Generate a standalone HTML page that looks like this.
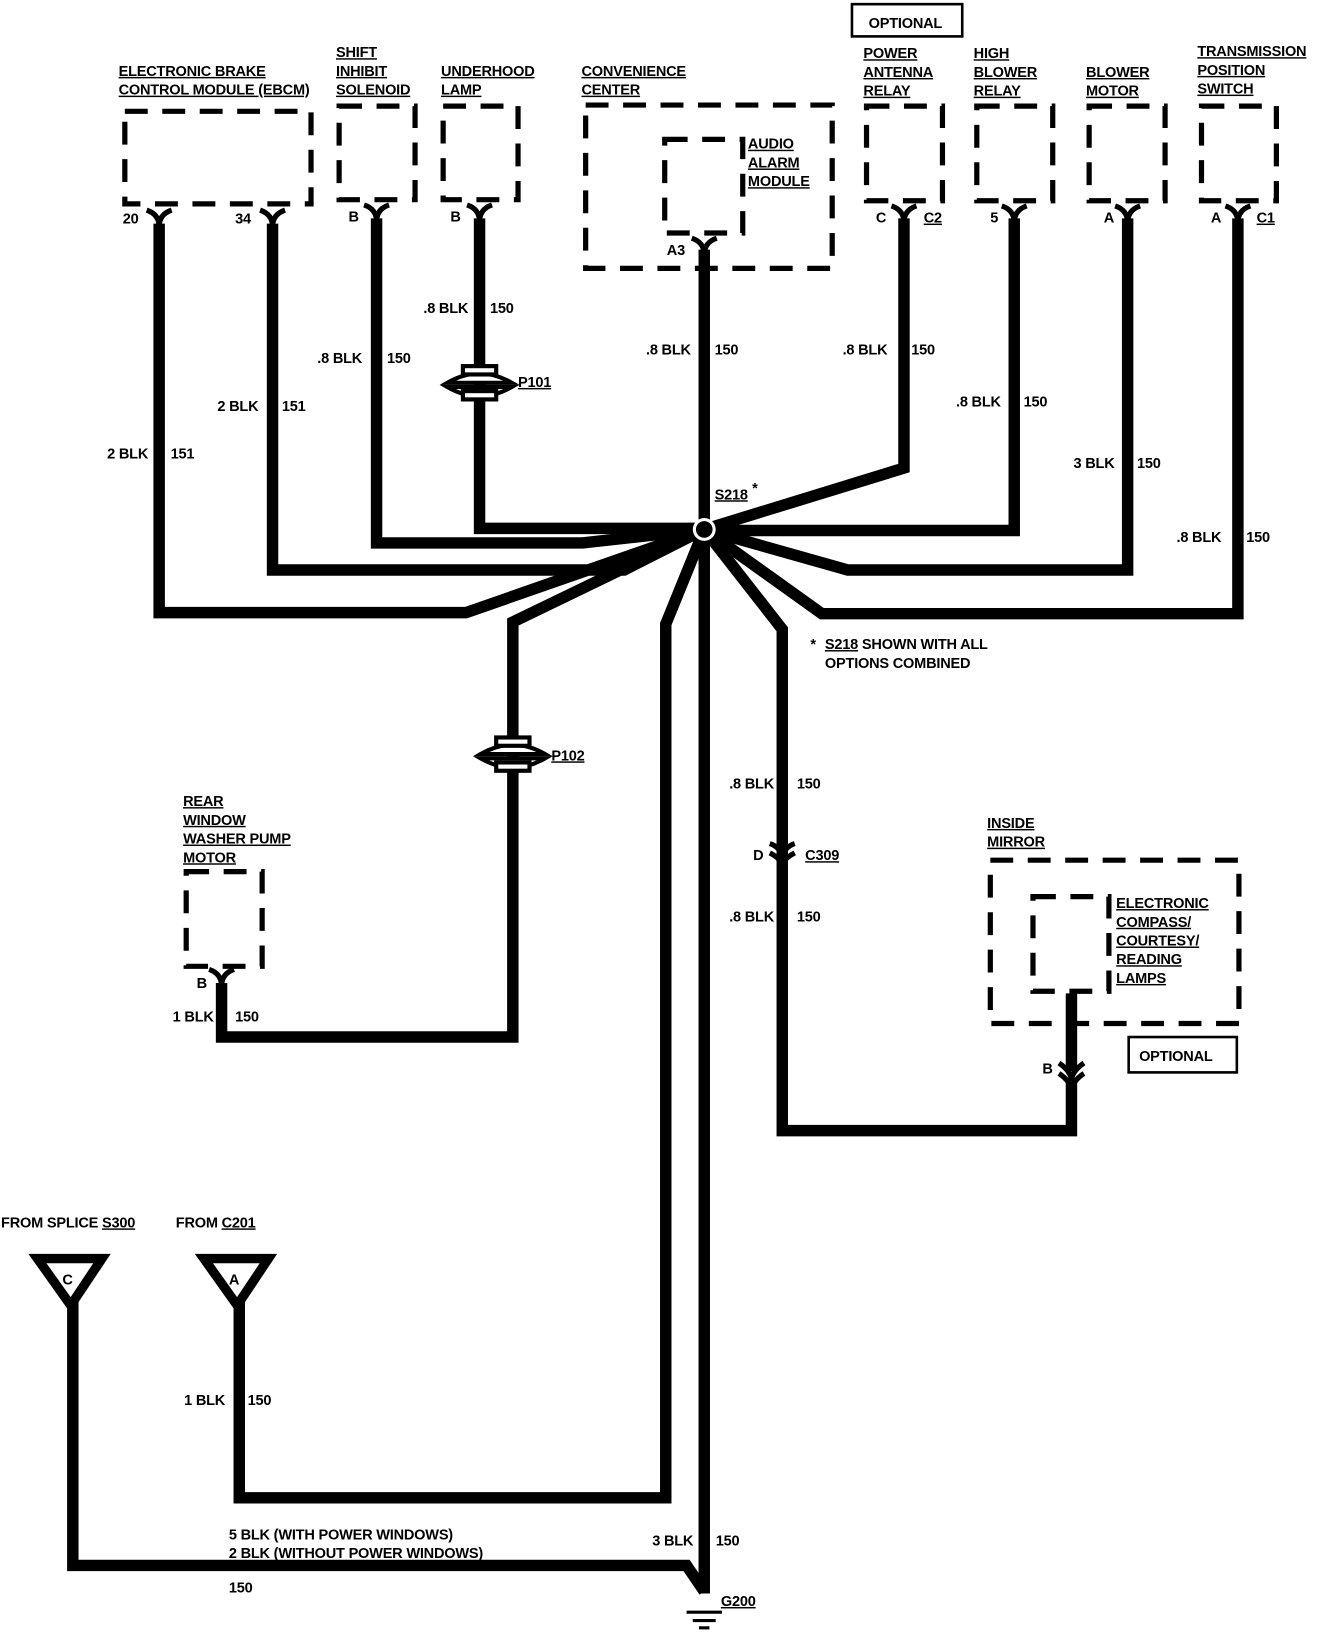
<!DOCTYPE html>
<html><head><style>
html,body{margin:0;padding:0;background:#fff;}
svg{display:block;}
text{font-family:"Liberation Sans",sans-serif;font-weight:bold;font-size:14px;fill:#000;letter-spacing:-0.2px;}
.u{text-decoration:underline;}
.w{fill:none;stroke:#000;stroke-width:11;stroke-linejoin:miter;}
.d{fill:none;stroke:#000;stroke-width:5;stroke-dasharray:22,14;}
.y{fill:none;stroke:#000;stroke-width:5;}
</style></head><body>
<svg width="1344" height="1632" viewBox="0 0 1292 1569" preserveAspectRatio="none" xmlns="http://www.w3.org/2000/svg">
<rect class="d" x="120" y="107" width="179" height="89"/>
<rect class="d" x="326" y="102" width="73" height="90"/>
<rect class="d" x="426" y="102" width="72" height="90"/>
<rect class="d" x="563" y="101" width="237" height="157"/>
<rect class="d" x="639" y="134" width="75" height="90" stroke-dasharray="18,12"/>
<rect class="d" x="833" y="102" width="73" height="91"/>
<rect class="d" x="939" y="102" width="73" height="91"/>
<rect class="d" x="1047" y="102" width="73" height="91"/>
<rect class="d" x="1155" y="102" width="72" height="91"/>
<rect class="d" x="179" y="838" width="73" height="91" stroke-dasharray="18,12"/>
<rect class="d" x="952" y="827" width="239" height="157"/>
<rect class="d" x="993" y="862" width="73" height="91" stroke-dasharray="18,12"/>
<rect x="819" y="4" width="106" height="31" fill="none" stroke="#000" stroke-width="2.5"/>
<rect x="1085" y="997" width="104" height="34" fill="none" stroke="#000" stroke-width="2.5"/>
<g class="y">
<path d="M141,202 Q153,206 153,218 Q153,206 165,202"/>
<path d="M250,202 Q262,206 262,218 Q262,206 274,202"/>
<path d="M350,197 Q362,201 362,213 Q362,201 374,197"/>
<path d="M449,197 Q461,201 461,213 Q461,201 473,197"/>
<path d="M665,229 Q677,233 677,245 Q677,233 689,229"/>
<path d="M857,198 Q869,202 869,214 Q869,202 881,198"/>
<path d="M963,198 Q975,202 975,214 Q975,202 987,198"/>
<path d="M1072,198 Q1084,202 1084,214 Q1084,202 1096,198"/>
<path d="M1178,198 Q1190,202 1190,214 Q1190,202 1202,198"/>
<path d="M201,932 Q213,936 213,948 Q213,936 225,932"/>
<path d="M740,811 Q752,815 752,827 M764,811 Q752,815 752,827"/>
<path d="M1018,1022 Q1030,1030 1030,1040 Q1030,1030 1042,1022"/>
<path d="M1018,1032 Q1030,1040 1030,1050 Q1030,1040 1042,1032"/>
<path d="M740,820 Q752,826 752,834 Q752,826 764,820"/>
</g>
<g class="w">
<path d="M153,215 V589 H448 L677,509"/>
<path d="M262,215 V548 H600 L677,509"/>
<path d="M362,210 V522 H560 L677,509"/>
<path d="M461,210 V508 H677"/>
<path d="M677,240 V1532"/>
<path d="M869,210 V450 L677,509"/>
<path d="M975,210 V510 H677"/>
<path d="M1084,210 V548 H815 L677,509"/>
<path d="M1190,210 V590 H790 L677,509"/>
<path d="M677,509 L640,600 V1440 H230 V1230"/>
<path d="M677,509 L493,598 V997 H213 V945"/>
<path d="M677,509 L752,605 V1087 H1030 V1040"/>
<path d="M1030,1030 V955"/>
<path d="M70,1230 V1505 H660 L677,1530"/>
</g>
<circle cx="677" cy="509" r="11" fill="#fff"/>
<circle cx="677" cy="509" r="8" fill="#000"/>
<g fill="#fff" stroke="#000" stroke-width="4">
<path d="M430,368 Q461,350 492,368 Z"/><path d="M430,372 Q461,390 492,372 Z"/>
<rect x="445" y="352" width="32" height="8"/><rect x="445" y="376" width="32" height="8"/>
<path d="M462,725 Q493,707 524,725 Z"/><path d="M462,729 Q493,747 524,729 Z"/>
<rect x="477" y="709" width="32" height="8"/><rect x="477" y="733" width="32" height="8"/>
</g>
<path d="M36,1210 H98 L68,1255 Z" fill="#fff" stroke="#000" stroke-width="9"/>
<path d="M196,1210 H258 L228,1255 Z" fill="#fff" stroke="#000" stroke-width="9"/>
<text x="60" y="1235" font-size="18">C</text>
<text x="220" y="1235" font-size="18">A</text>
<g stroke="#000" stroke-width="3"><line x1="660" y1="1550" x2="694" y2="1550"/><line x1="666" y1="1558" x2="688" y2="1558"/><line x1="672" y1="1565" x2="682" y2="1565"/></g>
<text x="835" y="27">OPTIONAL</text>
<text x="1095" y="1020" font-weight="normal">OPTIONAL</text>
<text x="114" y="73" class="u">ELECTRONIC BRAKE</text>
<text x="114" y="91" class="u">CONTROL MODULE (EBCM)</text>
<text x="323" y="55" class="u">SHIFT</text><text x="323" y="73" class="u">INHIBIT</text><text x="323" y="91" class="u">SOLENOID</text>
<text x="424" y="73" class="u">UNDERHOOD</text><text x="424" y="91" class="u">LAMP</text>
<text x="559" y="73" class="u">CONVENIENCE</text><text x="559" y="91" class="u">CENTER</text>
<text x="719" y="143" class="u">AUDIO</text><text x="719" y="161" class="u">ALARM</text><text x="719" y="179" class="u">MODULE</text>
<text x="830" y="56" class="u">POWER</text><text x="830" y="74" class="u">ANTENNA</text><text x="830" y="92" class="u">RELAY</text>
<text x="936" y="56" class="u">HIGH</text><text x="936" y="74" class="u">BLOWER</text><text x="936" y="92" class="u">RELAY</text>
<text x="1044" y="74" class="u">BLOWER</text><text x="1044" y="92" class="u">MOTOR</text>
<text x="1151" y="54" class="u">TRANSMISSION</text><text x="1151" y="72" class="u">POSITION</text><text x="1151" y="90" class="u">SWITCH</text>
<text x="118" y="215">20</text><text x="226" y="215">34</text>
<text x="335" y="213">B</text><text x="433" y="213">B</text>
<text x="641" y="245">A3</text>
<text x="842" y="214">C</text><text x="888" y="214" class="u">C2</text>
<text x="952" y="214">5</text><text x="1061" y="214">A</text>
<text x="1164" y="214">A</text><text x="1208" y="214" class="u">C1</text>
<text x="407" y="301">.8 BLK</text><text x="471" y="301">150</text>
<text x="305" y="349">.8 BLK</text><text x="372" y="349">150</text>
<text x="209" y="395">2 BLK</text><text x="271" y="395">151</text>
<text x="103" y="441">2 BLK</text><text x="164" y="441">151</text>
<text x="621" y="341">.8 BLK</text><text x="687" y="341">150</text>
<text x="810" y="341">.8 BLK</text><text x="876" y="341">150</text>
<text x="919" y="391">.8 BLK</text><text x="984" y="391">150</text>
<text x="1032" y="450">3 BLK</text><text x="1093" y="450">150</text>
<text x="1131" y="521">.8 BLK</text><text x="1198" y="521">150</text>
<text x="498" y="372" class="u">P101</text>
<text x="530" y="731" class="u">P102</text>
<text x="687" y="480" class="u">S218</text><text x="723" y="474">*</text>
<text x="779" y="624">*</text><text x="793" y="624"><tspan class="u">S218</tspan> SHOWN WITH ALL</text>
<text x="793" y="642">OPTIONS COMBINED</text>
<text x="701" y="758">.8 BLK</text><text x="766" y="758">150</text>
<text x="724" y="827">D</text><text x="774" y="827" class="u">C309</text>
<text x="701" y="886">.8 BLK</text><text x="766" y="886">150</text>
<text x="176" y="775" class="u">REAR</text><text x="176" y="793" class="u">WINDOW</text><text x="176" y="811" class="u">WASHER PUMP</text><text x="176" y="829" class="u">MOTOR</text>
<text x="189" y="950">B</text>
<text x="166" y="982">1 BLK</text><text x="226" y="982">150</text>
<text x="949" y="796" class="u">INSIDE</text><text x="949" y="814" class="u">MIRROR</text>
<text x="1073" y="873" class="u">ELECTRONIC</text><text x="1073" y="891" class="u">COMPASS/</text><text x="1073" y="909" class="u">COURTESY/</text><text x="1073" y="927" class="u">READING</text><text x="1073" y="945" class="u">LAMPS</text>
<text x="1002" y="1032">B</text>
<text x="1" y="1180">FROM SPLICE <tspan class="u">S300</tspan></text>
<text x="169" y="1180">FROM <tspan class="u">C201</tspan></text>
<text x="177" y="1351">1 BLK</text><text x="238" y="1351">150</text>
<text x="220" y="1480">5 BLK (WITH POWER WINDOWS)</text>
<text x="220" y="1498">2 BLK (WITHOUT POWER WINDOWS)</text>
<text x="220" y="1531">150</text>
<text x="627" y="1486">3 BLK</text><text x="688" y="1486">150</text>
<text x="693" y="1544" class="u">G200</text>
</svg>
</body></html>
